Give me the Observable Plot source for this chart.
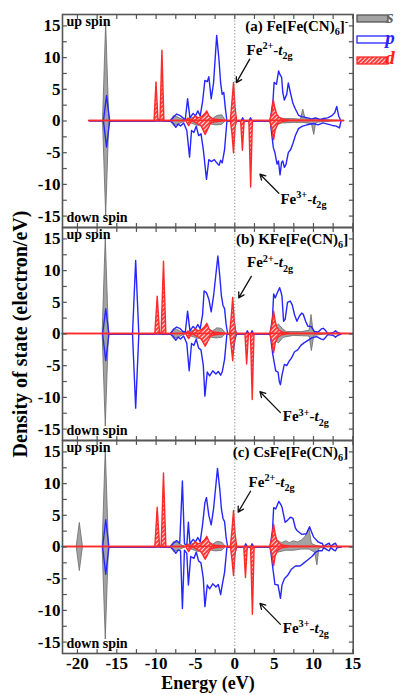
<!DOCTYPE html>
<html><head><meta charset="utf-8">
<script src="https://cdn.jsdelivr.net/npm/d3@7"></script>
<script src="https://cdn.jsdelivr.net/npm/@observablehq/plot@0.6"></script>
<style>body{margin:0;background:#fff} svg{display:block} svg text{font-family:"Liberation Serif","Times New Roman",Times,serif !important}</style>
</head><body>
<svg width="0" height="0" style="position:absolute">
<defs><pattern id="hatch" width="3" height="3" patternUnits="userSpaceOnUse" patternTransform="rotate(45)">
<rect width="3" height="3" fill="#ffe0e0"/>
<line x1="1" y1="0" x2="1" y2="3" stroke="#ff2020" stroke-width="1.7"/></pattern></defs></svg>
<div id="chart"></div>
<script>
// ---- axes / labels ----
const panels = ["a", "b", "c"];
const titles = ["(a) Fe[Fe(CN)_{6}]^{-}", "(b) KFe[Fe(CN)_{6}]", "(c) CsFe[Fe(CN)_{6}]"];
const xTickLabels = [-20, -15, -10, -5, 0, 5, 10, 15];
const yTickLabels = [-15, -10, -5, 0, 5, 10, 15];
const xMinor = [-20, -17.5, -15, -12.5, -10, -7.5, -5, -2.5, 0, 2.5, 5, 7.5, 10, 12.5, 15];
const yMinor = [-15, -12.5, -10, -7.5, -5, -2.5, 0, 2.5, 5, 7.5, 10, 12.5, 15];
const xDomain = [-21.9, 15.05];
const yDomain = [-16.8, 16.8];

// annotation anchor points [E, DOS] per panel
const fe2Label = [[1.5, 10.4], [1.55, 10.5], [1.75, 9.5]];
const fe3Label = [[5.8, -13.1], [6.1, -13.8], [6.1, -13.5]];
const fe2Arrow = [[1.9, 9.75, 0.2, 6.05], [2.1, 9.1, 0.5, 5.7], [2.0, 8.8, 0.43, 5.5]];
const fe3Arrow = [[5.6, -11.4, 3.2, -8.4], [5.8, -12.4, 3.2, -9.1], [5.8, -12.2, 3.2, -8.9]];

// ---- panel (a) Fe[Fe(CN)6]- ----
const a_s_up = [[-18.5,0],[-16.75,0],[-16.35,15.5],[-15.95,0],[-8.2,0],[-7.7,0.8],[-7.3,0.6],[-6.8,0.3],[-6.2,0],[-5.5,0.4],[-4.8,0.6],[-4.2,0.3],[-3.5,0.5],[-2.8,0.3],[-2.2,0.8],[-1.6,0.9],[-1.1,0],[-0.4,0],[-0.1,0.6],[0.2,0],[4.6,0],[5.0,0.8],[5.6,0.4],[6.5,0.3],[7.5,0.3],[8.4,0.2],[8.7,1.8],[9.0,0.3],[9.8,0.2],[10.1,0.4],[11,0.2],[12,0.1],[13.5,0]];
const a_s_down = [[-18.5,0],[-16.75,0],[-16.35,-15.0],[-15.95,0],[-8.2,0],[-7.7,-0.8],[-7.0,-0.5],[-6.2,0],[-5.5,-0.4],[-4.6,-0.8],[-4.0,-0.4],[-3.2,-0.5],[-2.4,-0.7],[-1.6,-0.6],[-1.1,0],[4.6,0],[5.0,-0.8],[6.0,-0.4],[7.5,-0.3],[8.7,-0.3],[9.8,-0.5],[10.1,-2.2],[10.35,-0.3],[11,-0.2],[13.5,0]];
const a_p_up = [[-18.5,0],[-16.7,0],[-16.3,4.0],[-15.9,0],[-10.2,0],[-9.9,0.6],[-9.6,0],[-9.4,0.5],[-9.1,0],[-8.2,0],[-7.8,0.6],[-7.4,1.1],[-7.0,0.9],[-6.6,0.5],[-6.3,0.2],[-6.0,3.5],[-5.7,0.5],[-5.3,1.2],[-5.0,0.8],[-4.7,1.6],[-4.4,0.8],[-4.1,3.0],[-3.8,6.4],[-3.5,6.2],[-3.3,7.0],[-3.0,3.5],[-2.7,6.0],[-2.3,13.5],[-2.0,9.5],[-1.8,6.0],[-1.6,4.2],[-1.4,4.5],[-1.2,2.0],[-1.0,0],[-0.4,0],[-0.2,1.5],[0,0.5],[0.2,0],[0.8,0],[1.0,0.5],[1.2,0],[1.8,0],[2.0,0.5],[2.2,0],[4.5,0],[4.86,3.3],[5.0,6.1],[5.3,5.8],[5.57,7.9],[5.75,7.3],[5.95,6.9],[6.1,4.5],[6.3,3.3],[6.6,4.2],[6.8,6.0],[7.1,4.3],[7.4,2.75],[7.7,1.9],[8.1,0.9],[8.5,0.7],[9.3,0.5],[9.8,0.3],[10.3,0.5],[10.8,0.2],[11.3,0.4],[11.8,0.5],[12.3,0.8],[12.7,1.3],[12.96,2.3],[13.2,0.8],[13.5,0]];
const a_p_down = [[-16.7,0],[-16.3,-4.1],[-15.9,0],[-8.2,0],[-7.8,-0.4],[-7.5,-1.0],[-7.2,-0.5],[-6.9,-0.8],[-6.5,-0.3],[-6.1,-1.5],[-5.75,-5.7],[-5.5,-1.5],[-5.2,-1.8],[-4.9,-0.8],[-4.6,-2.3],[-4.3,-2.0],[-4.0,-4.5],[-3.6,-9.2],[-3.3,-6.1],[-3.0,-6.4],[-2.6,-6.1],[-2.3,-6.6],[-2.0,-7.0],[-1.8,-6.2],[-1.6,-6.6],[-1.3,-4.5],[-1.0,0],[-0.4,0],[-0.2,-1.5],[0,-0.5],[0.2,0],[0.8,0],[1.0,-0.8],[1.2,0],[1.8,0],[2.0,-0.8],[2.2,0],[4.5,0],[4.9,-4.2],[5.1,-5.0],[5.37,-6.8],[5.55,-6.3],[5.75,-8.5],[5.95,-6.5],[6.1,-6.3],[6.3,-7.3],[6.5,-6.9],[6.8,-5.0],[7.1,-4.5],[7.4,-3.5],[7.7,-2.3],[8.1,-1.2],[8.6,-0.8],[9.2,-0.6],[10,-0.4],[10.6,-0.6],[11.2,-0.3],[11.8,-0.5],[12.4,-0.7],[12.9,-0.8],[13.3,-1.1],[13.5,0]];
const a_d_up = [[-18.5,0],[-10.2,0],[-9.95,6.1],[-9.7,0],[-9.45,0],[-9.2,11.1],[-8.95,0],[-6.2,0],[-5.9,0.4],[-5.5,0],[-5.0,0.7],[-4.6,0.4],[-4.2,0.6],[-3.8,1.0],[-3.5,1.5],[-3.2,0.7],[-2.8,0.3],[-2.4,0.2],[-1.0,0],[-0.5,0],[-0.3,3],[-0.1,6.0],[0.1,2],[0.3,0],[4.5,0],[4.8,1.5],[4.95,3.3],[5.15,2.0],[5.4,1.0],[5.7,0.5],[6.2,0.2],[7,0.1],[13.9,0]];
const a_d_down = [[-18.5,0],[-6.2,0],[-5.8,-0.8],[-5.4,0],[-4.8,-0.4],[-4.2,-0.9],[-3.7,-2.2],[-3.4,-1.4],[-3.0,-0.4],[-2.5,-0.2],[-1.0,0],[-0.5,0],[-0.3,-2],[-0.1,-5.1],[0.1,-1],[0.3,0],[0.8,0],[1.03,-4.7],[1.25,0],[1.85,0],[2.08,-10.5],[2.3,0],[4.5,0],[4.8,-1.5],[5.0,-3.0],[5.2,-1.5],[5.5,-0.6],[6,-0.2],[7,0],[13.9,0]];

// ---- panel (b) KFe[Fe(CN)6] ----
const b_s_up = [[-16.8,0],[-16.4,15.3],[-16.0,0],[-8.2,0],[-7.7,0.8],[-7.2,0.6],[-6.8,0.3],[-6.2,0],[-5.5,0.4],[-4.8,0.6],[-4.2,0.3],[-3.5,0.5],[-2.8,0.4],[-2.2,0.9],[-1.6,0.8],[-1.1,0],[-0.4,0],[-0.1,0.6],[0.2,0],[4.6,0],[5.0,0.8],[5.6,1.5],[6.1,0.8],[6.6,0.3],[7.5,0.3],[8.5,0.3],[9.5,0.5],[9.75,3.0],[10.0,0.5],[10.5,0.1],[12,0]];
const b_s_down = [[-16.8,0],[-16.4,-14.6],[-16.0,0],[-8.2,0],[-7.7,-0.8],[-7.0,-0.5],[-6.2,0],[-5.5,-0.4],[-4.6,-0.8],[-4.0,-0.4],[-3.2,-0.5],[-2.4,-0.7],[-1.6,-0.6],[-1.1,0],[4.6,0],[5.0,-0.8],[5.6,-1.5],[6.2,-0.6],[7.5,-0.3],[9.5,-0.4],[9.8,-2.7],[10.1,-0.3],[12,0]];
const b_p_up = [[-16.8,0],[-16.4,4.0],[-16.0,0],[-13.0,0],[-12.6,11.6],[-12.2,0],[-10.1,0],[-9.8,1.0],[-9.5,0],[-8.2,0],[-7.8,0.7],[-7.4,1.1],[-7.0,0.9],[-6.6,0.4],[-6.3,0.2],[-6.0,3.6],[-5.7,0.5],[-5.3,1.2],[-5.0,0.8],[-4.7,1.5],[-4.4,0.8],[-4.1,3.0],[-3.9,6.8],[-3.6,6.5],[-3.3,5.5],[-3.0,3.5],[-2.7,6.0],[-2.15,12.3],[-1.9,9.0],[-1.7,6.0],[-1.5,4.5],[-1.3,4.0],[-1.1,1.5],[-0.9,0],[-0.4,0],[-0.2,3.0],[0,1.0],[0.2,0],[1.4,0],[1.6,0.5],[1.8,0],[2.0,0],[2.2,0.5],[2.4,0],[4.5,0],[4.8,2.8],[4.94,6.3],[5.15,5.7],[5.4,6.5],[5.7,7.3],[5.9,6.5],[6.0,5.9],[6.2,2.0],[6.4,2.3],[6.7,5.0],[7.05,5.2],[7.3,4.6],[7.6,3.0],[7.9,2.0],[8.2,2.8],[8.5,3.3],[8.7,3.1],[9.0,2.0],[9.3,1.2],[9.7,1.2],[10.1,0.4],[10.6,0.3],[11.0,0.8],[11.25,0.9],[11.5,0.6],[11.8,0.1],[12.5,0.2],[12.8,0.5],[13.1,0.2],[13.5,0]];
const b_p_down = [[-16.8,0],[-16.4,-4.2],[-16.0,0],[-13.0,0],[-12.6,-11.7],[-12.2,0],[-8.2,0],[-7.8,-0.4],[-7.5,-1.0],[-7.2,-0.5],[-6.9,-0.8],[-6.5,-0.3],[-6.1,-1.5],[-5.8,-5.8],[-5.5,-1.5],[-5.2,-1.8],[-4.9,-0.8],[-4.6,-2.2],[-4.3,-2.5],[-4.0,-5.0],[-3.8,-9.8],[-3.5,-6.0],[-3.2,-6.6],[-2.8,-5.8],[-2.4,-6.3],[-2.1,-5.9],[-1.8,-6.5],[-1.6,-6.0],[-1.3,-4.0],[-1.0,0],[-0.4,0],[-0.2,-2.8],[0,-1.0],[0.2,0],[1.4,0],[1.6,-0.7],[1.8,0],[2.0,0],[2.2,-0.7],[2.4,0],[4.5,0],[4.8,-3.0],[5.2,-5.8],[5.5,-6.0],[5.66,-7.5],[5.8,-8.0],[6.0,-6.5],[6.3,-4.8],[6.6,-5.0],[6.9,-4.3],[7.2,-3.8],[7.6,-2.8],[8.0,-2.5],[8.4,-1.8],[8.8,-1.4],[9.3,-1.0],[9.8,-0.6],[10.4,-0.4],[11.0,-0.8],[11.25,-0.9],[11.5,-0.6],[11.8,-0.1],[12.5,-0.2],[12.8,-0.5],[13.1,-0.2],[13.5,0]];
const b_d_up = [[-21.9,0],[-10.1,0],[-9.8,5.9],[-9.5,0],[-9.3,0],[-9.0,11.4],[-8.7,0],[-6.2,0],[-5.9,0.4],[-5.5,0],[-5.0,0.7],[-4.6,0.4],[-4.2,0.6],[-3.8,1.0],[-3.5,1.6],[-3.2,0.7],[-2.8,0.3],[-2.4,0.2],[-1.0,0],[-0.6,0],[-0.4,2.5],[-0.2,5.7],[0,2],[0.2,0],[4.5,0],[4.8,1.5],[5.0,3.5],[5.2,2.0],[5.4,1.0],[5.7,0.5],[6.2,0.2],[7,0.1],[15.05,0]];
const b_d_down = [[-21.9,0],[-6.2,0],[-5.8,-0.8],[-5.4,0],[-4.8,-0.4],[-4.2,-0.9],[-3.7,-2.0],[-3.4,-1.3],[-3.0,-0.4],[-2.5,-0.2],[-1.0,0],[-0.6,0],[-0.4,-2],[-0.2,-4.3],[0,-1],[0.2,0],[1.35,0],[1.57,-4.8],[1.8,0],[2.05,0],[2.28,-10.4],[2.5,0],[4.5,0],[4.8,-1.5],[5.0,-3.0],[5.2,-1.5],[5.5,-0.6],[6,-0.2],[7,0],[15.05,0]];

// ---- panel (c) CsFe[Fe(CN)6] ----
const c_s_up = [[-20.1,0],[-19.7,3.8],[-19.3,0],[-16.8,0],[-16.4,15.5],[-16.0,0],[-8.2,0],[-7.7,0.8],[-7.2,0.6],[-6.8,0.3],[-6.2,0],[-5.5,0.4],[-4.8,0.6],[-4.2,0.3],[-3.5,0.5],[-2.8,0.4],[-2.2,0.8],[-1.6,0.7],[-1.1,0],[-0.4,0],[-0.1,0.6],[0.2,0],[4.6,0],[5.0,0.8],[5.5,1.0],[6.0,0.6],[6.5,0.9],[7.0,0.6],[7.5,0.9],[8.0,0.7],[8.5,1.0],[9.0,1.6],[9.5,2.9],[9.8,0.5],[10.3,0.2],[11,0],[13,0]];
const c_s_down = [[-20.1,0],[-19.7,-3.8],[-19.3,0],[-16.8,0],[-16.4,-14.6],[-16.0,0],[-8.2,0],[-7.7,-0.8],[-7.0,-0.5],[-6.2,0],[-5.5,-0.4],[-4.6,-0.8],[-4.0,-0.4],[-3.2,-0.5],[-2.4,-0.7],[-1.6,-0.6],[-1.1,0],[4.6,0],[5.0,-0.8],[5.5,-0.9],[6.5,-0.6],[7.5,-0.6],[8.5,-0.4],[9.5,-0.4],[10.2,-0.9],[10.5,-2.9],[10.75,-0.3],[11.5,0],[13,0]];
const c_p_up = [[-16.8,0],[-16.4,4.3],[-16.0,0],[-10.1,0],[-9.8,1.2],[-9.5,0],[-8.2,0],[-7.8,0.6],[-7.4,1.0],[-7.0,0.6],[-6.66,10.4],[-6.4,0.5],[-6.1,0.3],[-5.9,3.9],[-5.7,0.5],[-5.3,1.2],[-5.0,0.8],[-4.7,1.5],[-4.4,0.8],[-4.1,3.5],[-3.8,7.0],[-3.6,7.8],[-3.3,5.0],[-3.0,3.5],[-2.7,6.0],[-2.2,12.4],[-1.9,9.0],[-1.7,6.0],[-1.5,4.5],[-1.3,4.0],[-1.1,1.5],[-0.9,0],[-0.4,0],[-0.2,3.0],[0,1.0],[0.2,0],[1.2,0],[1.4,0.5],[1.6,0],[2.0,0],[2.2,0.5],[2.4,0],[4.5,0],[4.8,2.8],[4.94,6.2],[5.2,6.0],[5.6,7.2],[5.8,6.8],[6.0,6.3],[6.4,3.9],[6.7,4.2],[7.05,4.7],[7.4,4.5],[7.7,3.0],[7.9,2.6],[8.5,2.0],[9.1,2.1],[9.5,3.2],[10.0,1.6],[10.6,0.8],[10.9,0.6],[11.1,0.6],[11.3,0.1],[11.8,0.5],[12.0,0.6],[12.2,0.1],[12.6,0.5],[12.8,0.6],[13.0,0.1],[13.5,0]];
const c_p_down = [[-16.8,0],[-16.4,-4.3],[-16.0,0],[-8.2,0],[-7.8,-0.4],[-7.5,-1.0],[-7.2,-0.5],[-6.9,-0.6],[-6.66,-9.7],[-6.4,-0.5],[-6.1,-1.0],[-5.9,-6.0],[-5.6,-1.5],[-5.2,-1.8],[-4.9,-0.8],[-4.6,-2.2],[-4.3,-2.5],[-4.0,-5.0],[-3.8,-9.4],[-3.5,-6.0],[-3.2,-6.6],[-2.8,-5.8],[-2.4,-6.3],[-2.1,-5.9],[-1.8,-7.5],[-1.6,-6.0],[-1.3,-4.0],[-1.0,0],[-0.4,0],[-0.2,-2.8],[0,-1.0],[0.2,0],[1.2,0],[1.4,-0.7],[1.6,0],[2.0,0],[2.2,-0.7],[2.4,0],[4.5,0],[4.8,-3.0],[5.1,-5.9],[5.5,-6.0],[5.8,-8.1],[6.0,-6.0],[6.3,-5.0],[6.7,-4.5],[7.2,-3.5],[7.7,-3.0],[8.3,-3.0],[8.8,-2.5],[9.3,-2.0],[9.8,-1.5],[10.3,-0.8],[10.6,-0.6],[10.9,-0.6],[11.1,-0.6],[11.3,-0.1],[11.8,-0.5],[12.0,-0.6],[12.2,-0.1],[12.6,-0.5],[12.8,-0.6],[13.0,-0.1],[13.5,0]];
const c_d_up = [[-21.9,0],[-10.1,0],[-9.8,6.2],[-9.5,0],[-9.3,0],[-9.0,11.6],[-8.7,0],[-6.2,0],[-5.9,0.4],[-5.5,0],[-5.0,0.7],[-4.6,0.4],[-4.2,0.6],[-3.8,1.0],[-3.5,1.6],[-3.2,0.7],[-2.8,0.3],[-2.4,0.2],[-1.0,0],[-0.5,0],[-0.3,2.5],[-0.1,5.7],[0.1,2],[0.3,0],[4.5,0],[4.8,1.5],[5.0,3.5],[5.2,2.0],[5.4,1.0],[5.7,0.5],[6.2,0.2],[7,0.1],[15.05,0]];
const c_d_down = [[-21.9,0],[-6.2,0],[-5.8,-0.8],[-5.4,0],[-4.8,-0.4],[-4.2,-0.9],[-3.7,-2.0],[-3.4,-1.3],[-3.0,-0.4],[-2.5,-0.2],[-1.0,0],[-0.5,0],[-0.3,-2],[-0.1,-4.6],[0.1,-1],[0.3,0],[1.2,0],[1.42,-4.9],[1.65,0],[2.07,0],[2.3,-10.7],[2.52,0],[4.5,0],[4.8,-1.5],[5.0,-3.0],[5.2,-1.5],[5.5,-0.6],[6,-0.2],[7,0],[15.05,0]];

// ---- build tables ----
function rows(panel, spin, pairs) { return pairs.map(([E, v]) => ({panel, spin, E, v})); }
const sRows = [...rows("a","up",a_s_up), ...rows("a","down",a_s_down), ...rows("b","up",b_s_up), ...rows("b","down",b_s_down), ...rows("c","up",c_s_up), ...rows("c","down",c_s_down)];
const pRows = [...rows("a","up",a_p_up), ...rows("a","down",a_p_down), ...rows("b","up",b_p_up), ...rows("b","down",b_p_down), ...rows("c","up",c_p_up), ...rows("c","down",c_p_down)];
const dRows = [...rows("a","up",a_d_up), ...rows("a","down",a_d_down), ...rows("b","up",b_d_up), ...rows("b","down",b_d_down), ...rows("c","up",c_d_up), ...rows("c","down",c_d_down)];
const titleRows = panels.map((panel, i) => ({panel, label: titles[i]}));
const fe2Rows = panels.map((panel, i) => ({panel, E: fe2Label[i][0], v: fe2Label[i][1]}));
const fe3Rows = panels.map((panel, i) => ({panel, E: fe3Label[i][0], v: fe3Label[i][1]}));
const arrowRows = panels.flatMap((panel, i) => [fe2Arrow[i], fe3Arrow[i]].map(([x1, y1, x2, y2]) => ({panel, x1, y1, x2, y2})));

const frameColor = "#555";
const font = "Liberation Serif, Times New Roman, Times, serif";

const plot = Plot.plot({
  width: 400, height: 695,
  marginTop: 14, marginBottom: 42, marginLeft: 62, marginRight: 47.3,
  style: {fontFamily: font, fontWeight: "bold", background: "white", overflow: "visible"},
  x: {domain: xDomain},
  y: {domain: yDomain},
  fy: {domain: panels, padding: 0, axis: null},
  marks: [
    Plot.areaY(sRows, {x: "E", y1: 0, y2: "v", fy: "panel", z: "spin", fill: "#a3a3a3", stroke: "#6a6a6a", strokeWidth: 0.8}),
    Plot.lineY(pRows, {x: "E", y: "v", fy: "panel", z: "spin", stroke: "#2626ff", strokeWidth: 1.4}),
    Plot.areaY(dRows, {x: "E", y1: 0, y2: "v", fy: "panel", z: "spin", fill: "url(#hatch)", stroke: "#ff2a2a", strokeWidth: 1.4}),
    Plot.ruleX([0], {stroke: "#888", strokeDasharray: "1.2,2", strokeWidth: 1}),
    Plot.frame({stroke: frameColor, strokeWidth: 1.6}),
    Plot.link(yMinor, {x1: xDomain[0], x2: xDomain[0] + 0.55, y1: d => d, y2: d => d, stroke: frameColor, strokeWidth: 1.2}),
    Plot.link(yMinor, {x1: xDomain[1], x2: xDomain[1] - 0.55, y1: d => d, y2: d => d, stroke: frameColor, strokeWidth: 1.2}),
    Plot.link(xMinor, {x1: d => d, x2: d => d, y1: yDomain[0], y2: yDomain[0] + 0.7, stroke: frameColor, strokeWidth: 1.2}),
    Plot.link(xMinor, {x1: d => d, x2: d => d, y1: yDomain[1], y2: yDomain[1] - 0.7, stroke: frameColor, strokeWidth: 1.2}),
    Plot.axisY({ticks: yTickLabels, tickSize: 0, tickPadding: 2, tickFormat: d => String(d), fontSize: 17, fontWeight: "bold", fontFamily: font, label: null}),
    Plot.axisX({ticks: xTickLabels, tickSize: 0, tickPadding: 3, tickFormat: d => String(d), fontSize: 17, fontWeight: "bold", fontFamily: font, label: null}),
    Plot.text(["up spin"], {text: d => d, frameAnchor: "top-left", textAnchor: "start", lineAnchor: "top", dx: 4, dy: 2, fontSize: 14, fontWeight: "bold", fontFamily: font}),
    Plot.text(["down spin"], {text: d => d, frameAnchor: "bottom-left", textAnchor: "start", lineAnchor: "bottom", dx: 4, dy: -6, fontSize: 14, fontWeight: "bold", fontFamily: font}),
    Plot.text(titleRows, {fy: "panel", text: "label", frameAnchor: "top-right", textAnchor: "end", lineAnchor: "top", dx: -5, dy: 6, fontSize: 15, fontWeight: "bold", fontFamily: font}),
    Plot.text(fe2Rows, {fy: "panel", x: "E", y: "v", text: () => "Fe^{2+}-*t*_{2g}", textAnchor: "start", lineAnchor: "bottom", fontSize: 15, fontWeight: "bold", fontFamily: font}),
    Plot.text(fe3Rows, {fy: "panel", x: "E", y: "v", text: () => "Fe^{3+}-*t*_{2g}", textAnchor: "start", lineAnchor: "bottom", fontSize: 15, fontWeight: "bold", fontFamily: font}),
    Plot.arrow(arrowRows, {fy: "panel", x1: "x1", y1: "y1", x2: "x2", y2: "y2", stroke: "#111", strokeWidth: 1.3, headLength: 7})
  ]
});
document.getElementById("chart").appendChild(plot);

// rich text: ^{sup}, _{sub}, *italic*
d3.select(plot).selectAll("text").each(function () {
  const s = this.textContent;
  if (!/[\^_*]/.test(s)) return;
  const fs = parseFloat(getComputedStyle(this).fontSize) || 15;
  const sel = d3.select(this);
  sel.text(null);
  let cur = 0;
  const re = /\^\{([^}]*)\}|_\{([^}]*)\}|\*([^*]*)\*|([^\^_*]+)/g;
  let m;
  while ((m = re.exec(s))) {
    let target = 0, txt, size = fs, italic = false;
    if (m[1] !== undefined) { txt = m[1]; target = -0.38 * fs; size = 0.68 * fs; }
    else if (m[2] !== undefined) { txt = m[2]; target = 0.28 * fs; size = 0.68 * fs; }
    else if (m[3] !== undefined) { txt = m[3]; italic = true; }
    else txt = m[4];
    const t = sel.append("tspan").text(txt).attr("font-size", size).attr("dy", target - cur);
    if (italic) t.attr("font-style", "italic");
    cur = target;
  }
});

// axis titles and legend
const svg = d3.select(plot);
svg.append("text").attr("transform", "translate(27,334) rotate(-90)").attr("text-anchor", "middle")
  .attr("font-size", 20).attr("font-weight", "bold").attr("font-family", font).text("Density of state (electron/eV)");
svg.append("text").attr("x", 208).attr("y", 689).attr("text-anchor", "middle")
  .attr("font-size", 18).attr("font-weight", "bold").attr("font-family", font).text("Energy (eV)");
const legendItems = [
  {label: "s", fill: "#a3a3a3", stroke: "#555", color: "#666"},
  {label: "p", fill: "white", stroke: "#2626ff", color: "#2626ff"},
  {label: "d", fill: "url(#hatch)", stroke: "#ff2a2a", color: "#ff2020"}
];
const lg = svg.append("g").attr("font-family", font).attr("font-weight", "bold").attr("font-style", "italic");
legendItems.forEach((it, i) => {
  lg.append("rect").attr("x", 357).attr("y", 15 + i * 21).attr("width", 31).attr("height", 7)
    .attr("fill", it.fill).attr("stroke", it.stroke).attr("stroke-width", 1.3);
  lg.append("text").attr("x", 390).attr("y", 23 + i * 20.5).attr("font-size", 19).attr("fill", it.color).text(it.label);
});
</script></body></html>
